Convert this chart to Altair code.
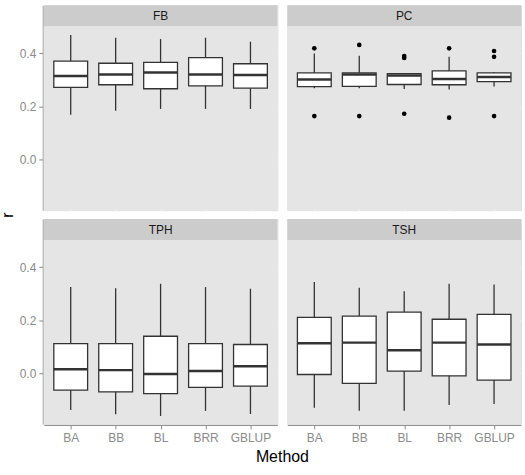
import altair as alt
import pandas as pd

panels = ["FB", "PC", "TPH", "TSH"]
panel_row = [0, 0, 1, 1]
panel_col = [0, 1, 0, 1]
methods = ["BA", "BB", "BL", "BRR", "GBLUP"]

# box statistics per panel (order = methods)
fb_lo = [0.169, 0.184, 0.191, 0.191, 0.191]
fb_q1 = [0.272, 0.282, 0.267, 0.278, 0.269]
fb_med = [0.315, 0.321, 0.328, 0.321, 0.319]
fb_q3 = [0.371, 0.363, 0.366, 0.384, 0.361]
fb_hi = [0.469, 0.459, 0.454, 0.459, 0.444]

pc_lo = [0.269, 0.269, 0.266, 0.264, 0.275]
pc_q1 = [0.275, 0.276, 0.283, 0.282, 0.294]
pc_med = [0.302, 0.321, 0.317, 0.304, 0.311]
pc_q3 = [0.327, 0.327, 0.324, 0.334, 0.327]
pc_hi = [0.400, 0.391, 0.324, 0.387, 0.330]

tph_lo = [-0.1375, -0.154, -0.160, -0.141, -0.1525]
tph_q1 = [-0.0625, -0.069, -0.076, -0.0525, -0.0475]
tph_med = [0.016, 0.0125, -0.0025, 0.009, 0.0275]
tph_q3 = [0.1125, 0.1125, 0.140, 0.1125, 0.109]
tph_hi = [0.325, 0.321, 0.3375, 0.325, 0.319]

tsh_lo = [-0.129, -0.140, -0.140, -0.119, -0.115]
tsh_q1 = [-0.004, -0.0375, 0.009, -0.009, -0.025]
tsh_med = [0.114, 0.116, 0.0875, 0.116, 0.109]
tsh_q3 = [0.211, 0.216, 0.231, 0.204, 0.2225]
tsh_hi = [0.344, 0.3225, 0.309, 0.3375, 0.335]

# outliers (PC panel)
out_panel = ["PC"] * 12
out_method = ["BA", "BA", "BB", "BB", "BL", "BL", "BL", "BRR", "BRR", "GBLUP", "GBLUP", "GBLUP"]
out_value = [0.419, 0.164, 0.432, 0.164, 0.390, 0.383, 0.173, 0.419, 0.158, 0.409, 0.387, 0.164]

stats = {
    "FB": (fb_lo, fb_q1, fb_med, fb_q3, fb_hi),
    "PC": (pc_lo, pc_q1, pc_med, pc_q3, pc_hi),
    "TPH": (tph_lo, tph_q1, tph_med, tph_q3, tph_hi),
    "TSH": (tsh_lo, tsh_q1, tsh_med, tsh_q3, tsh_hi),
}

rows = []
for p, r, c in zip(panels, panel_row, panel_col):
    lo, q1, med, q3, hi = stats[p]
    for i, m in enumerate(methods):
        rows.append(dict(panel=p, rr=r, cc=c, method=m, lo=lo[i], q1=q1[i],
                         med=med[i], q3=q3[i], hi=hi[i], out=None))
for p, m, v in zip(out_panel, out_method, out_value):
    i = panels.index(p)
    rows.append(dict(panel=p, rr=panel_row[i], cc=panel_col[i], method=m, lo=None,
                     q1=None, med=None, q3=None, hi=None, out=v))
df = pd.DataFrame(rows)

W = 235
H = 206
STRIP = 21
dark = "#333333"
label_grey = "#8A8A8A"
minor_test = "round(datum.value*10) % 2 != 0"
FONT = "Liberation Sans"

xscale = alt.Scale(type="point", padding=0.6, domain=methods)
xaxis = alt.Axis(labelAngle=0, grid=True, gridColor="white", gridWidth=1.1,
                 tickSize=4, labelPadding=4, title=None, labelFontSize=12,
                 labelFont=FONT, labelColor=label_grey, tickColor=label_grey)
yscale = alt.Scale(domain=[-0.19, 0.581], nice=False, zero=False)
yaxis = alt.Axis(values=[-0.1, 0.0, 0.1, 0.2, 0.3, 0.4], grid=True,
                 gridColor={"condition": {"test": minor_test, "value": "#F2F2F2"}, "value": "white"},
                 gridWidth={"condition": {"test": minor_test, "value": 0.6}, "value": 1.1},
                 tickOpacity={"condition": {"test": minor_test, "value": 0}, "value": 1},
                 labelExpr="round(datum.value*10) % 2 != 0 ? '' : format(datum.value, '.1f')",
                 tickSize=4, labelPadding=3, title=None, labelFontSize=12,
                 labelFont=FONT, labelColor=label_grey, tickColor=label_grey)

X = alt.X("method:N", scale=xscale, axis=xaxis, title=None)

box_filter = "isValid(datum.q1)"
one_per_panel = "isValid(datum.q1) && datum.method == 'BA'"

panel_bg = alt.Chart().mark_rect(color="#E5E5E5").encode(
    x=alt.value(0), x2=alt.value(W), y=alt.value(STRIP), y2=alt.value(H)
).transform_filter(one_per_panel)

strip = alt.Chart().mark_rect(color="#CCCCCC").encode(
    x=alt.value(0), x2=alt.value(W), y=alt.value(0), y2=alt.value(STRIP)
).transform_filter(one_per_panel)

strip_text = alt.Chart().mark_text(fontSize=12, color="#1A1A1A", baseline="middle", font=FONT).encode(
    x=alt.value(W / 2), y=alt.value(STRIP / 2 + 0.5), text="panel:N"
).transform_filter(one_per_panel)

whisk = alt.Chart().mark_rule(color=dark, strokeWidth=1.3).encode(
    x=X, y=alt.Y("lo:Q", scale=yscale, axis=yaxis, title=None), y2="hi:Q"
).transform_filter(box_filter)

box = alt.Chart().mark_bar(size=34, fill="white", stroke=dark, strokeWidth=1.3).encode(
    x=X, y=alt.Y("q1:Q", scale=yscale, axis=yaxis, title=None), y2="q3:Q"
).transform_filter(box_filter)

med = alt.Chart().mark_tick(size=34, thickness=2.5, color=dark, opacity=1).encode(
    x=X, y=alt.Y("med:Q", scale=yscale, axis=yaxis, title=None)
).transform_filter(box_filter)

outl = alt.Chart().mark_circle(size=22, color="black", opacity=1).encode(
    x=X, y=alt.Y("out:Q", scale=yscale, axis=yaxis, title=None)
).transform_filter("isValid(datum.out)")

layered = alt.layer(panel_bg, whisk, box, med, outl, strip, strip_text, data=df).properties(width=W, height=H)

hdr = dict(labels=False, labelPadding=0, titleFont=FONT, titleFontSize=16,
           titleFontWeight="normal", titleColor="black")

chart = layered.facet(
    row=alt.Row("rr:O", title="r", header=alt.Header(titleOrient="left", titleAngle=-90, titlePadding=-23, **hdr)),
    column=alt.Column("cc:O", title="Method", header=alt.Header(titleOrient="bottom", titlePadding=-5, **hdr)),
    spacing={"row": 7, "column": 8},
).configure_view(strokeWidth=0).configure(
    background="white", padding={"left": 0, "top": 3, "right": 3, "bottom": 5})

chart.save("out.html", embed_options={"renderer": "svg", "actions": False})
